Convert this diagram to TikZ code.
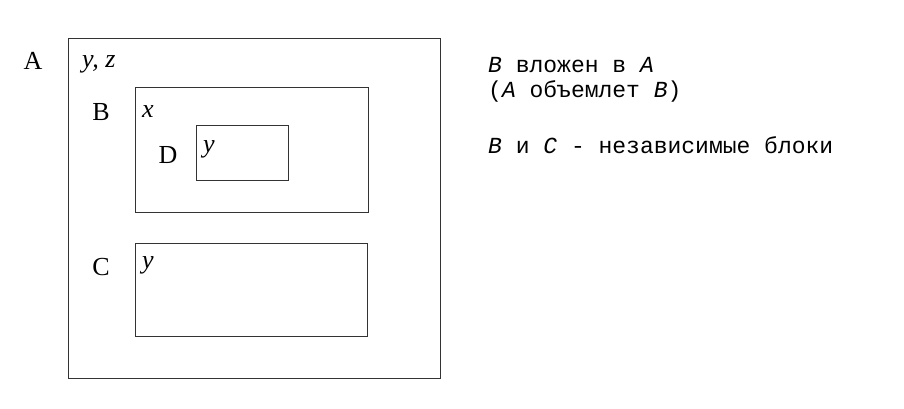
\documentclass[tikz,border=0pt]{standalone}
\usepackage{fontspec}
\setmainfont{Liberation Serif}
\setmonofont{Liberation Mono}
\usetikzlibrary{positioning}

\begin{document}
\begin{tikzpicture}[x=1pt, y=-1pt,
    blk/.style={draw=black!80, line width=0.9pt, anchor=north west,
                inner sep=0pt},
    tag/.style={font=\fontsize{26}{30}\selectfont, anchor=base},
    var/.style={font=\fontsize{26}{30}\selectfont\itshape,
                anchor=base west, inner sep=0pt},
    note/.style={font=\fontsize{23}{25}\selectfont\ttfamily,
                 anchor=base west, align=left, inner sep=0pt}]
    \useasboundingbox (0,0) rectangle (904,408);
    % blocks
    \node [blk, minimum width=372pt, minimum height=340pt] (A) at (68,38) {};
    \node [blk, minimum width=233pt, minimum height=125pt] (B) at (135,87) {};
    \node [blk, minimum width=92pt, minimum height=55pt] (D) at (196,125) {};
    \node [blk, minimum width=232pt, minimum height=93pt] (C) at (135,243) {};
    % block names
    \node [tag] (nameA) at (33,69) {A};
    \node [tag] (nameB) at (101,120) {B};
    \node [tag] (nameD) at (168,163) {D};
    \node [tag] (nameC) at (101,275) {C};
    % variables
    \node [var] (varA) at (82,67) {y, z};
    \node [var] (varB) at (142,117) {x};
    \node [var] (varD) at (203,152) {y};
    \node [var] (varC) at (142,268) {y};
    % notes
    \node [note] (rel) at (488,97)
          {\textit{B} вложен в \textit{A}\\(\textit{A} объемлет \textit{B})};
    \node [note] (indep) at (488,153)
          {\textit{B} и \textit{C} - независимые блоки};
\end{tikzpicture}
\end{document}
